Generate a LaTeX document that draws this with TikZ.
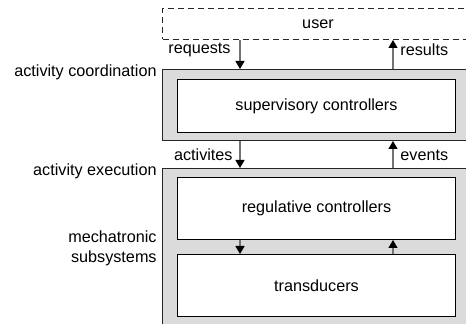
\documentclass[tikz,border=0pt]{standalone}
\usepackage{fontspec}
\setmainfont{Liberation Sans}
\usetikzlibrary{arrows.meta}
\begin{document}
\begin{tikzpicture}[x=0.5pt,y=-0.5pt,
  every node/.style={font=\fontsize{8.1}{10}\selectfont},
  panel/.style={draw=black!85,fill=black!14,line width=0.5pt,inner sep=0pt,anchor=north west,minimum width=160pt},
  box/.style={draw=black,fill=white,line width=0.5pt,inner sep=0pt,anchor=north west,minimum width=139pt,minimum height=#1},
  userbox/.style={draw=black!85,dashed,dash pattern=on 3pt off 2pt,line width=0.5pt,inner sep=0pt,anchor=north west,minimum width=160pt,minimum height=15.5pt},
  arr/.style={draw=black!55,line width=0.6pt,-{Triangle[length=4pt,width=4.5pt,color=black]}},
  lbl/.style={inner sep=0pt}]
\useasboundingbox (0,0) rectangle (466,324);
\clip (0,0) rectangle (466,324);
\node[userbox] (user) at (162,8) {};
\node at (318,24) {user};
\node[panel,minimum height=35.5pt] (p1) at (162,69) {};
\node[panel,minimum height=85pt] (p2) at (162,168) {};
\node[box=26.5pt] (sup) at (177,79) {};
\node at (sup.center) {supervisory controllers};
\node[box=31pt] (reg) at (177,177) {};
\node at (reg.center) {regulative controllers};
\node[box=31pt] (tra) at (177,254) {};
\node at (tra.center) {transducers};
\coordinate (L) at (240,0);
\coordinate (R) at (393,0);
\draw[arr] (user.south -| L) -- (p1.north -| L);
\draw[arr] (p1.north -| R) -- (user.south -| R);
\draw[arr] (p1.south -| L) -- (p2.north -| L);
\draw[arr] (p2.north -| R) -- (p1.south -| R);
\draw[arr] (reg.south -| L) -- (tra.north -| L);
\draw[arr] (tra.north -| R) -- (reg.south -| R);
\node[lbl,anchor=east] (rq) at (231,50) {requests};
\node[lbl,anchor=west] (rs) at (400,50) {results};
\node[lbl,anchor=east] (ac) at (233,155) {activites};
\node[lbl,anchor=west] (ev) at (400,155) {events};
\node[lbl,anchor=east] (coord) at (157,72) {activity coordination};
\node[lbl,anchor=east] (exec) at (157,171) {activity execution};
\node[lbl,anchor=east,align=right] (mech) at (157,248) {mechatronic\\subsystems};
\end{tikzpicture}
\end{document}
